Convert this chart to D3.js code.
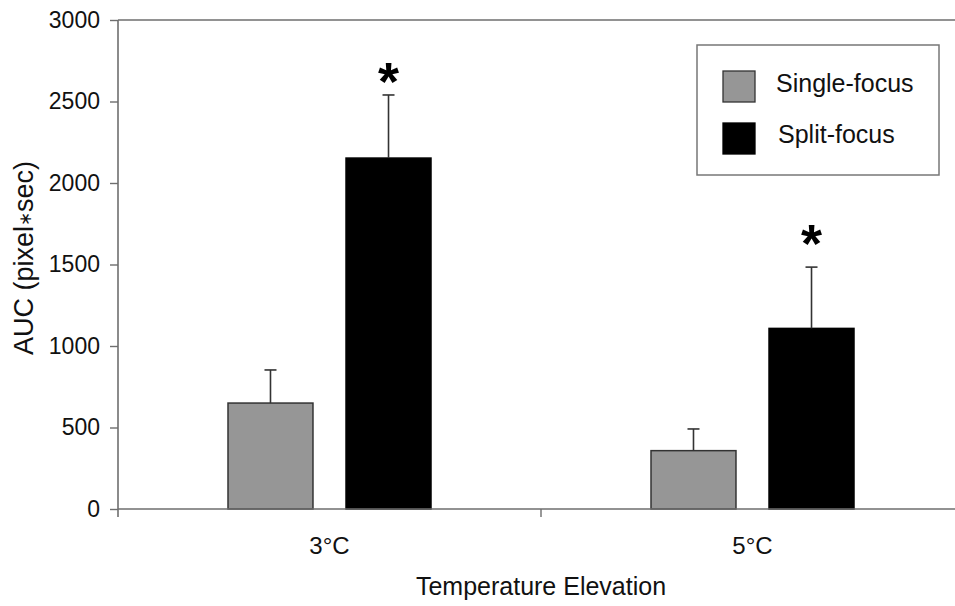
<!DOCTYPE html>
<html>
<head>
<meta charset="utf-8">
<script src="https://cdn.jsdelivr.net/npm/d3@7/dist/d3.min.js"></script>
<style>
  html, body { margin: 0; padding: 0; background: #fff; }
  svg { display: block; font-family: "Liberation Sans", Arial, Helvetica, sans-serif; }
</style>
</head>
<body>
<svg id="chart" width="955" height="606"></svg>
<script>
// ---- data ----
const categories = ["3°C", "5°C"];
const seriesNames = ["Single-focus", "Split-focus"];
const singleFocus = [650, 358];
const splitFocus = [2153, 1108];
const singleFocusErr = [203, 133];
const splitFocusErr = [387, 376];
const asteriskLevel = [2690, 1700]; // asterisk centre (data units) above split-focus bars
const yTicks = [0, 500, 1000, 1500, 2000, 2500, 3000];
const xTitle = "Temperature Elevation";
const yTitleParts = ["AUC (pixel", "\u2217", "sec)"];
const colors = ["#969696", "#000000"];
const strokeColors = ["#333333", "#000000"];

const seriesValues = [singleFocus, splitFocus];
const seriesErr = [singleFocusErr, splitFocusErr];

const rows = [];
categories.forEach((c, i) => {
  seriesNames.forEach((s, j) => {
    rows.push({ cat: c, series: s, si: j, value: seriesValues[j][i], err: seriesErr[j][i], ci: i });
  });
});

const svg = d3.select("#chart");
const pLeft = 118, pRight = 964, pTop = 20, pBottom = 509;

const x = d3.scaleBand().domain(categories).range([pLeft, pRight]);
const xs = d3.scaleBand().domain(seriesNames).range([110, 313]).paddingInner(0.28).paddingOuter(0);
const y = d3.scaleLinear().domain([0, 3000]).range([pBottom, pTop]);

const axisColor = "#6e6e6e";

// frame top line
svg.append("line")
  .attr("x1", pLeft).attr("x2", 955).attr("y1", y(3000)).attr("y2", y(3000))
  .attr("stroke", axisColor).attr("stroke-width", 1.6);

// bars
svg.append("g").selectAll("rect").data(rows).join("rect")
  .attr("x", d => x(d.cat) + xs(d.series))
  .attr("width", xs.bandwidth())
  .attr("y", d => y(d.value))
  .attr("height", d => y(0) - y(d.value))
  .attr("fill", d => colors[d.si])
  .attr("stroke", d => strokeColors[d.si])
  .attr("stroke-width", 1.5);

// error bars (upper only)
const eg = svg.append("g").attr("stroke", "#333").attr("stroke-width", 1.6);
rows.forEach(d => {
  const cx = x(d.cat) + xs(d.series) + xs.bandwidth() / 2;
  eg.append("line").attr("x1", cx).attr("x2", cx).attr("y1", y(d.value)).attr("y2", y(d.value + d.err));
  eg.append("line").attr("x1", cx - 6).attr("x2", cx + 6).attr("y1", y(d.value + d.err)).attr("y2", y(d.value + d.err));
});

// asterisks
categories.forEach((c, i) => {
  const cx = x(c) + xs("Split-focus") + xs.bandwidth() / 2;
  svg.append("text")
    .attr("x", cx).attr("y", y(asteriskLevel[i]))
    .attr("dy", "0.55em")
    .attr("text-anchor", "middle")
    .attr("font-size", 54).attr("font-weight", "bold")
    .attr("fill", "#000")
    .text("*");
});

// y axis
const yAxis = svg.append("g").attr("transform", `translate(${pLeft},0)`)
  .call(d3.axisLeft(y).tickValues(yTicks).tickSize(8).tickPadding(10).tickFormat(d3.format("d")));
yAxis.select(".domain").attr("stroke", axisColor).attr("stroke-width", 1.6)
  .attr("d", `M0,${pTop}V${pBottom + 8}`);
yAxis.selectAll(".tick line").attr("stroke", axisColor).attr("stroke-width", 1.4);
yAxis.selectAll(".tick text").attr("font-size", 23).attr("fill", "#111")
  .attr("font-family", "'Liberation Sans', Arial, sans-serif");

// x axis
const xAxis = svg.append("g").attr("transform", `translate(0,${pBottom})`)
  .call(d3.axisBottom(x).tickSize(0).tickPadding(28));
xAxis.select(".domain").remove();
svg.append("line").attr("x1", pLeft).attr("x2", 955).attr("y1", pBottom).attr("y2", pBottom)
  .attr("stroke", axisColor).attr("stroke-width", 1.6);
// boundary ticks between categories
xAxis.selectAll(".bnd").data(categories.slice(1)).join("line")
  .attr("x1", d => x(d)).attr("x2", d => x(d)).attr("y1", 0).attr("y2", 8)
  .attr("stroke", axisColor).attr("stroke-width", 1.4);
xAxis.selectAll(".tick text").attr("font-size", 24).attr("fill", "#111")
  .attr("font-family", "'Liberation Sans', Arial, sans-serif");

// axis titles
svg.append("text")
  .attr("x", x(categories[1]))
  .attr("y", 595)
  .attr("text-anchor", "middle").attr("font-size", 25).attr("fill", "#111")
  .text(xTitle);

const yt = svg.append("text")
  .attr("transform", "translate(33,258) rotate(-90)")
  .attr("text-anchor", "middle").attr("font-size", 27).attr("fill", "#111");
yt.append("tspan").text(yTitleParts[0]);
yt.append("tspan").attr("font-size", 17).attr("dy", -2).text(yTitleParts[1]);
yt.append("tspan").attr("dy", 2).text(yTitleParts[2]);

// legend
const lg = svg.append("g");
lg.append("rect").attr("x", 697).attr("y", 45).attr("width", 242).attr("height", 130)
  .attr("fill", "#fff").attr("stroke", "#777").attr("stroke-width", 1.5);
seriesNames.forEach((s, j) => {
  lg.append("rect").attr("x", 723).attr("y", 71 + j * 52).attr("width", 32).attr("height", 31)
    .attr("fill", colors[j]).attr("stroke", strokeColors[j]).attr("stroke-width", 1.3);
  lg.append("text").attr("x", 776 + j * 2).attr("y", 92 + j * 51)
    .attr("font-size", 25).attr("fill", "#111").text(s);
});
</script>
</body>
</html>
